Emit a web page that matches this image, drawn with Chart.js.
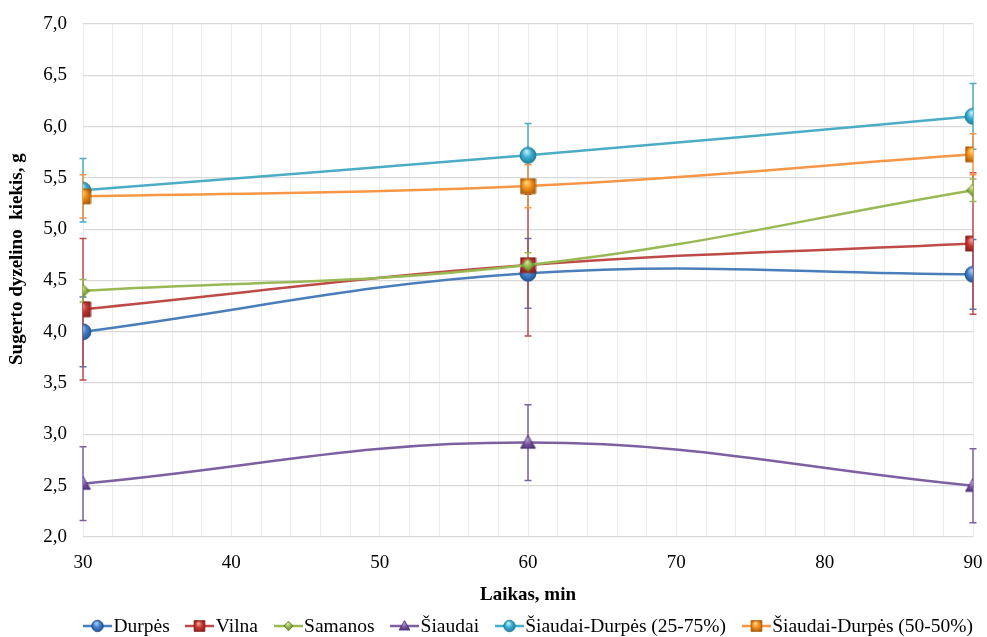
<!DOCTYPE html>
<html>
<head>
<meta charset="utf-8">
<script src="https://cdn.jsdelivr.net/npm/chart.js@4"></script>
<style>
html, body { margin: 0; padding: 0; background: #fff; }
#wrap { position: relative; width: 987px; height: 637px; }
#legend {
  position: absolute; left: 83px; top: 615px; width: 890px; height: 22px;
  display: flex; justify-content: center; align-items: center;
  font-family: 'Liberation Serif', 'Times New Roman', serif; font-size: 19.5px;
  line-height: 22px; color: #000; white-space: nowrap;
}
#legend .item { display: flex; align-items: center; margin-right: 15.6px; }
#legend .item:last-child { margin-right: 0; }
#legend canvas { margin-right: 1.5px; }
</style>
</head>
<body>
<div id="wrap">
  <canvas id="chart" width="987" height="637"></canvas>
  <div id="legend"></div>
</div>
<script>
// x values (time, min)
const times = [30, 60, 90];

// series values
const durpes = [4.00, 4.57, 4.56];
const vilna = [4.22, 4.65, 4.86];
const samanos = [4.40, 4.65, 5.38];
const siaudai = [2.52, 2.92, 2.50];
const sd2575 = [5.38, 5.72, 6.10];
const sd5050 = [5.32, 5.42, 5.73];

// error bar half-lengths
const durpesErr = [0.34, 0.34, 0.34];
const vilnaErr = [0.69, 0.69, 0.69];
const samanosErr = [0.11, 0.12, 0.11];
const siaudaiErr = [0.36, 0.37, 0.36];
const sd2575Err = [0.31, 0.31, 0.32];
const sd5050Err = [0.21, 0.21, 0.20];

const names = ["Durpės", "Vilna", "Samanos", "Šiaudai", "Šiaudai-Durpės (25-75%)", "Šiaudai-Durpės (50-50%)"];
const yTicks = [2, 2.5, 3, 3.5, 4, 4.5, 5, 5.5, 6, 6.5, 7];

const FONT = "'Liberation Serif', 'Times New Roman', serif";

// line colour, marker light / mid / dark
const styles = [
  { line: '#4a7ebb', shape: 'circle',   size: 16, c: ['#9cc9f2', '#3f7dc8', '#1d4a85'] },
  { line: '#be4b48', shape: 'square',   size: 15, c: ['#f19a95', '#c53a33', '#86201c'] },
  { line: '#98b954', shape: 'diamond',  size: 13, c: ['#d3e79a', '#8db249', '#5b7a27'] },
  { line: '#7d60a0', shape: 'triangle', size: 15, c: ['#b39ad3', '#6e4e98', '#46306b'] },
  { line: '#4bacc6', shape: 'circle',   size: 16, c: ['#b5ecf8', '#37abd0', '#1a7390'] },
  { line: '#f79646', shape: 'square',   size: 15, c: ['#ffd27a', '#f3901c', '#a85a08'] }
];

function shapePath(ctx, shape, cx, cy, r) {
  ctx.beginPath();
  if (shape === 'circle') {
    ctx.arc(cx, cy, r, 0, Math.PI * 2);
  } else if (shape === 'square') {
    ctx.rect(cx - r, cy - r, r * 2, r * 2);
  } else if (shape === 'diamond') {
    ctx.moveTo(cx, cy - r); ctx.lineTo(cx + r, cy); ctx.lineTo(cx, cy + r); ctx.lineTo(cx - r, cy);
    ctx.closePath();
  } else {
    ctx.moveTo(cx, cy - r); ctx.lineTo(cx + r, cy + r * 0.75); ctx.lineTo(cx - r, cy + r * 0.75);
    ctx.closePath();
  }
}

function drawMarker(ctx, st, cx, cy, size) {
  const r = size / 2;
  const g = ctx.createRadialGradient(cx - r * 0.2, cy - r * 0.5, r * 0.1, cx, cy, r * 1.2);
  g.addColorStop(0, st.c[0]);
  g.addColorStop(0.45, st.c[1]);
  g.addColorStop(1, st.c[2]);
  shapePath(ctx, st.shape, cx, cy, r);
  ctx.fillStyle = g;
  ctx.fill();
  ctx.lineWidth = 0.8;
  ctx.strokeStyle = st.c[2];
  ctx.stroke();
}

function makeMarker(st) {
  const c = document.createElement('canvas');
  c.width = st.size + 2; c.height = st.size + 2;
  drawMarker(c.getContext('2d'), st, c.width / 2, c.height / 2, st.size);
  return c;
}

function makeLegendIcon(st) {
  const c = document.createElement('canvas');
  c.width = 29; c.height = 14;
  const ctx = c.getContext('2d');
  ctx.strokeStyle = st.line;
  ctx.lineWidth = 2.5;
  ctx.beginPath(); ctx.moveTo(0, 7); ctx.lineTo(29, 7); ctx.stroke();
  drawMarker(ctx, st, 14.5, 7, st.size * 0.72);
  return c;
}

const values = [durpes, vilna, samanos, siaudai, sd2575, sd5050];
const errors = [durpesErr, vilnaErr, samanosErr, siaudaiErr, sd2575Err, sd5050Err];

const datasets = values.map((vals, i) => ({
  label: names[i],
  data: times.map((t, j) => ({ x: t, y: vals[j] })),
  errors: errors[i],
  borderColor: styles[i].line,
  backgroundColor: styles[i].line,
  borderWidth: 2.5,
  tension: 0.4,
  pointStyle: makeMarker(styles[i]),
  order: 6 - i,
  legendIcon: makeLegendIcon(styles[i])
}));

// vertical error bars with caps
const errorBars = {
  id: 'errorBars',
  beforeDatasetsDraw(chart) {
    const ctx = chart.ctx;
    const xs = chart.scales.x, ys = chart.scales.y;
    chart.data.datasets.forEach(ds => {
      ctx.save();
      ctx.strokeStyle = ds.borderColor;
      ctx.lineWidth = 1.5;
      ds.data.forEach((p, j) => {
        const e = ds.errors[j];
        const x = xs.getPixelForValue(p.x);
        const y1 = ys.getPixelForValue(p.y + e);
        const y2 = ys.getPixelForValue(p.y - e);
        ctx.beginPath();
        ctx.moveTo(x, y1); ctx.lineTo(x, y2);
        ctx.moveTo(x - 3.5, y1); ctx.lineTo(x + 3.5, y1);
        ctx.moveTo(x - 3.5, y2); ctx.lineTo(x + 3.5, y2);
        ctx.stroke();
      });
      ctx.restore();
    });
  }
};

// legend built as html under the plot
const htmlLegend = {
  id: 'htmlLegend',
  afterUpdate(chart) {
    const box = document.getElementById('legend');
    box.innerHTML = '';
    chart.data.datasets.forEach(ds => {
      const item = document.createElement('div');
      item.className = 'item';
      item.appendChild(ds.legendIcon);
      const txt = document.createElement('span');
      txt.textContent = ds.label;
      item.appendChild(txt);
      box.appendChild(item);
    });
  }
};

new Chart(document.getElementById('chart'), {
  type: 'line',
  data: { datasets: datasets },
  plugins: [errorBars, htmlLegend],
  options: {
    responsive: false,
    animation: false,
    layout: { padding: { top: 24, right: 14, left: 0, bottom: 31 } },
    plugins: {
      tooltip: { enabled: false },
      legend: { display: false }
    },
    scales: {
      x: {
        type: 'linear',
        min: 30,
        max: 90,
        border: { display: false },
        grid: { color: '#ececec', lineWidth: 1, drawTicks: false },
        ticks: {
          stepSize: 2,
          autoSkip: false,
          maxRotation: 0,
          padding: 15,
          color: '#000',
          font: { family: FONT, size: 19 },
          callback: v => (v % 10 === 0 ? String(v) : '')
        },
        title: {
          display: true,
          text: 'Laikas, min',
          color: '#000',
          font: { family: FONT, size: 19, weight: 'bold' },
          padding: { top: 0, bottom: 0 }
        },
        afterFit(scale) {
          scale.height = 69;
          scale.paddingLeft = 0;
          scale.paddingRight = 0;
        }
      },
      y: {
        min: 2,
        max: 7,
        border: { display: false },
        grid: { color: '#d9d9d9', lineWidth: 1.3, drawTicks: false },
        afterBuildTicks(scale) { scale.ticks = yTicks.map(v => ({ value: v })); },
        ticks: {
          padding: 16,
          color: '#000',
          font: { family: FONT, size: 19 },
          callback: v => v.toFixed(1).replace('.', ',')
        },
        title: {
          display: true,
          text: '         Sugerto dyzelino  kiekis, g',
          color: '#000',
          font: { family: FONT, size: 19, weight: 'bold' },
          padding: { top: 6, bottom: 0 }
        },
        afterFit(scale) {
          scale.width = 83;
          scale.paddingTop = 0;
          scale.paddingBottom = 0;
        }
      }
    }
  }
});
</script>
</body>
</html>
